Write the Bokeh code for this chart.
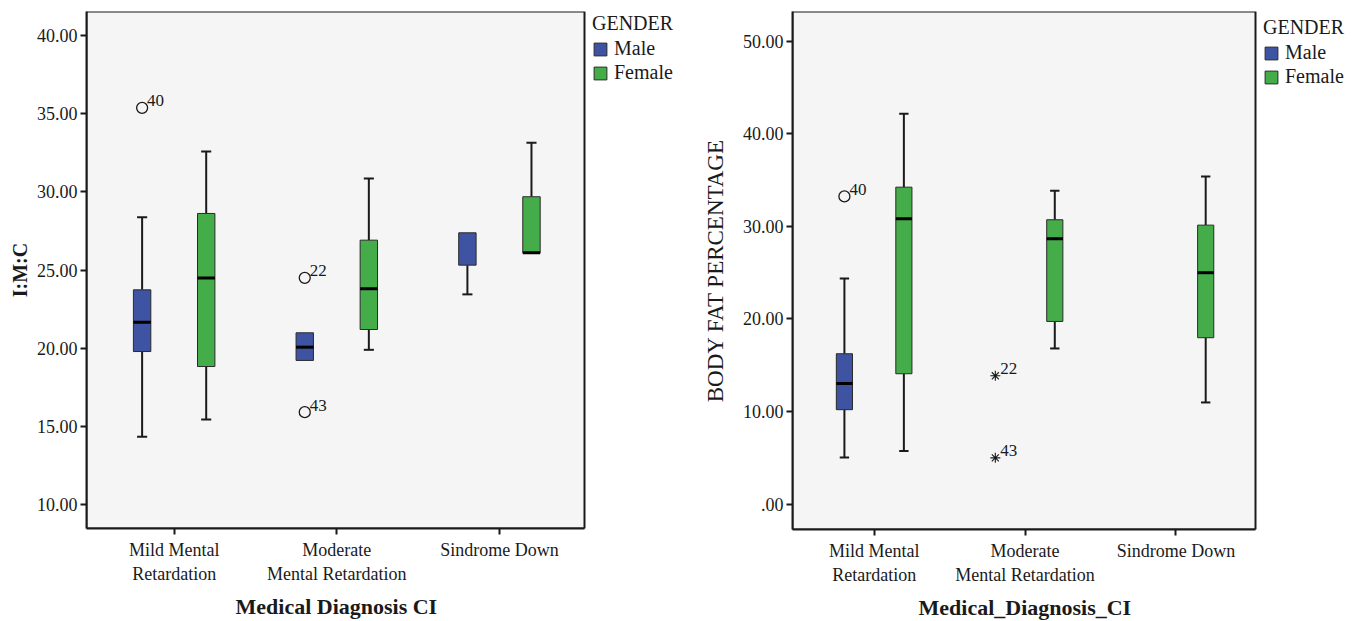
import math
from bokeh.plotting import figure
from bokeh.models import FixedTicker, Legend, LegendItem, Range1d, BoxAnnotation, Title
from bokeh.layouts import row
from bokeh.embed import file_html
from bokeh.resources import INLINE
from bokeh.core.properties import value

nan = float("nan")

# ---------------- data ----------------
categories = ["Mild Mental\nRetardation", "Moderate\nMental Retardation", "Sindrome Down"]
genders = ["Male", "Female"]

# Chart 1: I:M:C
imc_ticks = [10, 15, 20, 25, 30, 35, 40]
imc_male_low = [14.32, 19.21, 23.44]
imc_male_q1 = [19.78, 19.21, 25.31]
imc_male_med = [21.66, 20.06, nan]
imc_male_q3 = [23.73, 20.98, 27.38]
imc_male_high = [28.38, 20.98, 27.38]
imc_female_low = [15.43, 19.89, 26.10]
imc_female_q1 = [18.82, 21.19, 26.10]
imc_female_med = [24.48, 23.80, 26.10]
imc_female_q3 = [28.62, 26.91, 29.69]
imc_female_high = [32.59, 30.86, 33.14]
imc_out_cat = [0, 1, 1]
imc_out_gender = ["Male", "Male", "Male"]
imc_out_value = [35.38, 24.50, 15.90]
imc_out_id = ["40", "22", "43"]
imc_out_extreme = [False, False, False]

# Chart 2: BODY FAT PERCENTAGE
bf_ticks = [0, 10, 20, 30, 40, 50]
bf_male_low = [5.04, nan, nan]
bf_male_q1 = [10.20, nan, nan]
bf_male_med = [13.03, nan, nan]
bf_male_q3 = [16.24, nan, nan]
bf_male_high = [24.37, nan, nan]
bf_female_low = [5.73, 16.81, 10.98]
bf_female_q1 = [14.08, 19.73, 17.97]
bf_female_med = [30.82, 28.66, 24.99]
bf_female_q3 = [34.23, 30.71, 30.13]
bf_female_high = [42.16, 33.84, 35.39]
bf_out_cat = [0, 1, 1]
bf_out_gender = ["Male", "Male", "Male"]
bf_out_value = [33.23, 13.86, 5.00]
bf_out_id = ["40", "22", "43"]
bf_out_extreme = [False, True, True]

# ---------------- style ----------------
FONT = "Liberation Serif"
INK = "#1a1a1a"
COLORS = {"Male": "#3E54A3", "Female": "#44AD4A"}
BOX_LINE = "#2a2a2a"
OFFSET = {"Male": -0.197, "Female": 0.197}
BOX_W = 0.107
CAP_W = 0.062
LEGEND_H = 72


def tick_label(t):
    s = "%.2f" % t
    return s[1:] if s.startswith("0") else s


def make_chart(plot_w, legend_w, frame_h, mb_left, mb_top, mb_bottom, xr, yr,
               ticks, ylabel, ylabel_style, ylabel_size, ylabel_standoff,
               xlabel, xlabel_offset, stats, outliers, legend_dx, legend_top):
    # the frame is widened to the right so that the legend can sit inside it
    x_end = xr[0] + (xr[1] - xr[0]) * (plot_w + legend_w) / plot_w
    p = figure(frame_width=plot_w + legend_w, frame_height=frame_h,
               output_backend="svg", toolbar_location=None,
               x_range=Range1d(xr[0], x_end), y_range=Range1d(*yr),
               min_border_left=mb_left, min_border_right=2,
               min_border_top=mb_top, min_border_bottom=mb_bottom)
    p.background_fill_color = "white"
    p.border_fill_color = "white"
    p.outline_line_color = None
    p.xgrid.visible = False
    p.ygrid.visible = False

    # grey plotting area with its dark border
    p.add_layout(BoxAnnotation(left=xr[0], right=xr[1], bottom=yr[0], top=yr[1],
                               fill_color="#F5F5F5", fill_alpha=1.0,
                               line_color=INK, line_alpha=1.0, line_width=2,
                               level="underlay"))

    box_renderers = {}
    for g in genders:
        low, q1, med, q3, high = stats[g]
        xs = [i + 1 + OFFSET[g] for i in range(len(categories))]
        ok = [not math.isnan(v) for v in q1]
        xb = [x for x, k in zip(xs, ok) if k]
        lowb = [v for v, k in zip(low, ok) if k]
        q1b = [v for v, k in zip(q1, ok) if k]
        q3b = [v for v, k in zip(q3, ok) if k]
        highb = [v for v, k in zip(high, ok) if k]
        # whiskers
        p.segment(x0=xb, y0=q3b, x1=xb, y1=highb, line_color=INK, line_width=2)
        p.segment(x0=xb, y0=q1b, x1=xb, y1=lowb, line_color=INK, line_width=2)
        # caps where whiskers extend beyond the box
        cu = [(x, h) for x, h, t in zip(xb, highb, q3b) if h > t]
        cl = [(x, l) for x, l, b in zip(xb, lowb, q1b) if l < b]
        for caps in (cu, cl):
            if caps:
                p.segment(x0=[c[0] - CAP_W / 2 for c in caps], y0=[c[1] for c in caps],
                          x1=[c[0] + CAP_W / 2 for c in caps], y1=[c[1] for c in caps],
                          line_color=INK, line_width=2)
        box_renderers[g] = p.vbar(x=xb, width=BOX_W, bottom=q1b, top=q3b,
                                  fill_color=COLORS[g], line_color=BOX_LINE, line_width=1)
        mm = [(x, m) for x, m in zip(xs, med) if not math.isnan(m)]
        if mm:
            p.segment(x0=[m[0] - BOX_W / 2 for m in mm], y0=[m[1] for m in mm],
                      x1=[m[0] + BOX_W / 2 for m in mm], y1=[m[1] for m in mm],
                      line_color="black", line_width=3)

    oc, og, ov, oid, oext = outliers
    ox = [c + 1 + OFFSET[g] for c, g in zip(oc, og)]
    cx = [x for x, e in zip(ox, oext) if not e]
    cy = [y for y, e in zip(ov, oext) if not e]
    sx = [x for x, e in zip(ox, oext) if e]
    sy = [y for y, e in zip(ov, oext) if e]
    if cx:
        p.scatter(x=cx, y=cy, marker="circle", size=11, fill_color=None,
                  line_color=INK, line_width=1.3)
    if sx:
        p.scatter(x=sx, y=sy, marker="asterisk", size=10, line_color=INK, line_width=1.1)
    p.text(x=ox, y=ov, text=oid, x_offset=5, y_offset=-7, text_baseline="alphabetic",
           text_font=value(FONT), text_font_size="17px", text_color=INK)

    # axes
    for ax in (p.xaxis[0], p.yaxis[0]):
        ax.axis_line_color = INK
        ax.axis_line_width = 2
        ax.major_tick_line_color = INK
        ax.major_tick_line_width = 2
        ax.major_tick_out = 6
        ax.major_tick_in = 0
        ax.minor_tick_line_color = None
        ax.major_label_text_font = FONT
        ax.major_label_text_font_size = "18px"
        ax.major_label_text_color = INK
        ax.axis_label_text_font = FONT
        ax.axis_label_text_color = INK

    p.yaxis.ticker = FixedTicker(ticks=ticks)
    p.yaxis.major_label_overrides = {t: tick_label(t) for t in ticks}
    p.yaxis.major_label_standoff = 3
    p.yaxis.axis_label = ylabel
    p.yaxis.axis_label_text_font_style = ylabel_style
    p.yaxis.axis_label_text_font_size = ylabel_size
    p.yaxis.axis_label_standoff = ylabel_standoff

    p.xaxis.ticker = FixedTicker(ticks=[i + 1 for i in range(len(categories))])
    p.xaxis.major_label_overrides = {i + 1: c for i, c in enumerate(categories)}
    p.xaxis.major_label_standoff = 5
    p.xaxis.bounds = (xr[0], xr[1])

    p.add_layout(Title(text=xlabel, align="left", offset=xlabel_offset,
                       text_font=FONT, text_font_size="22px", text_font_style="bold",
                       text_color=INK), "below")

    legend = Legend(
        items=[LegendItem(label=g, renderers=[box_renderers[g]]) for g in genders],
        title="GENDER",
        location=(plot_w + legend_dx, frame_h - (legend_top - mb_top) - LEGEND_H),
        margin=0, padding=0, spacing=1,
        glyph_width=16, glyph_height=16, label_height=22, label_standoff=6,
        label_text_font=FONT, label_text_font_size="20px", label_text_color=INK,
        title_text_font=FONT, title_text_font_size="20px", title_text_font_style="normal",
        title_text_color=INK, title_standoff=2,
        border_line_color=None, background_fill_alpha=0,
    )
    p.add_layout(legend, "center")
    return p


p1 = make_chart(
    plot_w=498, legend_w=104, frame_h=517, mb_left=86, mb_top=11, mb_bottom=93,
    xr=(0.461, 3.523), yr=(8.45, 41.55), ticks=imc_ticks,
    ylabel="I:M:C", ylabel_style="bold", ylabel_size="20px", ylabel_standoff=3,
    xlabel="Medical Diagnosis CI", xlabel_offset=149,
    stats={"Male": (imc_male_low, imc_male_q1, imc_male_med, imc_male_q3, imc_male_high),
           "Female": (imc_female_low, imc_female_q1, imc_female_med, imc_female_q3, imc_female_high)},
    outliers=(imc_out_cat, imc_out_gender, imc_out_value, imc_out_id, imc_out_extreme),
    legend_dx=8, legend_top=12,
)

p2 = make_chart(
    plot_w=463, legend_w=108, frame_h=518, mb_left=102, mb_top=11, mb_bottom=92,
    xr=(0.459, 3.527), yr=(-2.74, 53.2), ticks=bf_ticks,
    ylabel="BODY FAT PERCENTAGE", ylabel_style="normal", ylabel_size="23px", ylabel_standoff=12,
    xlabel="Medical_Diagnosis_CI", xlabel_offset=126,
    stats={"Male": (bf_male_low, bf_male_q1, bf_male_med, bf_male_q3, bf_male_high),
           "Female": (bf_female_low, bf_female_q1, bf_female_med, bf_female_q3, bf_female_high)},
    outliers=(bf_out_cat, bf_out_gender, bf_out_value, bf_out_id, bf_out_extreme),
    legend_dx=8, legend_top=16,
)

layout = row(p1, p2, spacing=0)
open("out.html", "w").write(file_html(layout, INLINE))
